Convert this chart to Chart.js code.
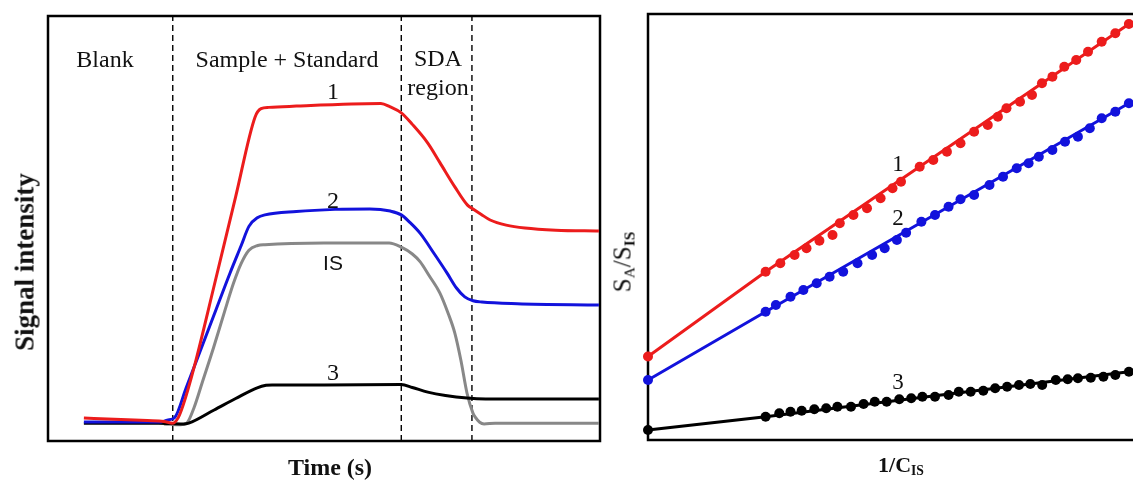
<!DOCTYPE html>
<html>
<head>
<meta charset="utf-8">
<script src="https://cdn.jsdelivr.net/npm/chart.js@4.4.1/dist/chart.umd.min.js"></script>
<style>
  html, body { margin:0; padding:0; background:#fff; }
  body { width:1133px; height:481px; overflow:hidden; position:relative; }
  .pane { position:absolute; top:0; }
  .lbl { position:absolute; transform:translate(-50%,-50%); white-space:nowrap; color:#111;
         font-family:"Liberation Serif","Times New Roman",serif; font-size:24px; line-height:1; }
  .sans { font-family:"Liberation Sans",Arial,sans-serif; }
  .b { font-weight:bold; }
  .rot { transform:translate(-50%,-50%) rotate(-90deg); }
  sub { font-size:62%; vertical-align:-0.25em; line-height:0; }
</style>
</head>
<body>
<div class="pane" style="left:0;width:610px;height:481px"><canvas id="c1" width="610" height="481"></canvas></div>
<div class="pane" style="left:600px;width:545px;height:481px"><canvas id="c2" width="545" height="481"></canvas></div>

<div class="lbl" style="left:105px;top:59px">Blank</div>
<div class="lbl" style="left:287px;top:59px">Sample + Standard</div>
<div class="lbl" style="left:438px;top:58px">SDA</div>
<div class="lbl" style="left:438px;top:87px">region</div>
<div class="lbl" style="left:333px;top:91px">1</div>
<div class="lbl" style="left:333px;top:200px">2</div>
<div class="lbl sans" style="left:333px;top:262px;font-size:21px">IS</div>
<div class="lbl" style="left:333px;top:372px">3</div>
<div class="lbl b rot" style="left:25px;top:262px;font-size:27px">Signal intensity</div>
<div class="lbl b" style="left:330px;top:467px">Time (s)</div>

<div class="lbl" style="left:898px;top:163px;font-size:23px">1</div>
<div class="lbl" style="left:898px;top:217px;font-size:23px">2</div>
<div class="lbl" style="left:898px;top:381px;font-size:23px">3</div>
<div class="lbl rot" style="left:622px;top:262px;font-size:25px">S<sub>A</sub>/S<sub class="b">IS</sub></div>
<div class="lbl b" style="left:901px;top:465px;font-size:22px">1/C<sub>IS</sub></div>

<script>
// ---------- Left panel: signal vs time (arbitrary units) ----------
const timeRed   = [6.5, 12, 18, 21.0, 22.6, 23.6, 24.5, 26.5, 30, 34, 37.5, 38.6, 40, 45, 55, 60.3, 62, 64.0, 66, 68.8, 71, 73.7, 76, 77.0, 78.5, 80.1, 83, 86.4, 92, 99.8];
const signalRed = [5.4, 5.1, 4.8, 4.6, 4.2, 5.5, 8.5, 17.5, 36, 57.5, 76.2, 78.2, 78.5, 78.8, 79.3, 79.4, 78.6, 77.2, 74.5, 70.1, 65.5, 59.8, 55.5, 54.6, 53.3, 52.0, 50.8, 50.1, 49.6, 49.4];

const timeBlue   = [6.5, 15, 20.5, 21.6, 23.0, 25, 30, 33, 35, 36.4, 38, 39.3, 45, 52, 58.3, 62, 64.0, 65.5, 67.4, 70, 72.3, 74, 75.5, 77, 78.6, 85, 99.8];
const signalBlue = [4.5, 4.5, 4.5, 4.9, 5.6, 12.4, 29.4, 39.6, 46, 50.5, 52.6, 53.2, 54.0, 54.5, 54.6, 54.1, 53.2, 51.5, 48.9, 44, 39.5, 36, 33.9, 33.0, 32.7, 32.3, 32.0];

const timeIS   = [21.0, 24.0, 25.2, 26.5, 28, 30, 32, 33.6, 35, 36.4, 38, 39.3, 50, 61.8, 64.0, 66, 67.4, 69, 71.0, 72.5, 73.7, 74.8, 75.9, 77.0, 77.4, 78.2, 79.0, 81, 83.0, 99.8];
const signalIS = [4.0, 3.8, 4.3, 8.0, 14, 22, 30.5, 37.1, 41.8, 44.9, 46.0, 46.2, 46.6, 46.6, 45.6, 44, 42.2, 39, 34.8, 30, 25.4, 19, 11.3, 6.5, 5.6, 4.4, 4.0, 4.2, 4.2, 4.2];

const timeBlack   = [6.5, 20, 24.5, 25.5, 30.1, 34, 37.9, 39.5, 40.6, 50, 64.0, 66, 68.8, 72, 75.9, 79.3, 99.8];
const signalBlack = [4.2, 4.2, 4.0, 4.2, 7.3, 10.0, 12.5, 13.1, 13.2, 13.2, 13.3, 12.6, 11.5, 10.7, 10.1, 9.9, 9.9];

const regionBounds = [22.6, 64.0, 76.8];   // Blank | Sample + Standard | SDA region | ...

// ---------- Right panel: S_A/S_IS vs 1/C_IS (arbitrary units) ----------
const invConc1 = [0, 24.15, 27.17, 30.10, 32.55, 35.20, 37.89, 39.38, 42.18, 44.97, 47.76, 50.21, 51.95, 55.79, 58.58, 61.38, 64.17, 66.96, 69.77, 71.85, 73.61, 76.39, 78.85, 80.90, 83.04, 85.48, 87.93, 90.35, 93.16, 95.96, 98.75];
const ratio1   = [19.6, 39.51, 41.48, 43.43, 45.0, 46.78, 48.12, 50.87, 52.82, 54.39, 56.74, 59.08, 60.63, 64.15, 65.73, 67.68, 69.65, 72.37, 73.94, 75.89, 77.86, 79.41, 80.99, 83.73, 85.28, 87.63, 89.20, 91.15, 93.50, 95.47, 97.65];

const invConc2 = [0, 24.15, 26.26, 29.26, 31.91, 34.64, 37.29, 40.08, 43.02, 46.02, 48.60, 51.11, 53.00, 56.14, 58.93, 61.72, 64.17, 66.96, 70.12, 72.90, 75.71, 78.15, 80.25, 83.04, 85.63, 88.28, 90.72, 93.16, 95.96, 98.75];
const ratio2   = [14.08, 30.12, 31.69, 33.64, 35.21, 36.78, 38.33, 39.51, 41.48, 43.43, 45.0, 46.95, 48.66, 51.24, 52.82, 54.77, 56.50, 57.51, 59.86, 61.81, 63.78, 64.95, 66.50, 68.08, 70.02, 71.20, 73.17, 75.52, 77.07, 79.04];

const invConc3 = [0, 24.15, 26.96, 29.26, 31.56, 34.15, 36.59, 38.89, 41.68, 44.27, 46.57, 49.01, 51.60, 54.05, 56.34, 58.93, 61.72, 63.82, 66.26, 68.85, 71.29, 73.74, 76.18, 78.50, 80.94, 83.74, 86.18, 88.28, 90.92, 93.51, 95.96, 98.75];
const ratio3   = [2.35, 5.47, 6.27, 6.64, 6.88, 7.21, 7.44, 7.82, 7.82, 8.45, 8.99, 8.99, 9.55, 9.79, 10.16, 10.16, 10.56, 11.34, 11.34, 11.57, 12.14, 12.51, 12.91, 13.15, 12.91, 14.08, 14.25, 14.48, 14.62, 14.86, 15.26, 16.03];

// fitted lines: [first point, start of linear range, end]
const fitX1 = [0, 24.15, 98.75], fitY1 = [19.6, 39.51, 97.65];
const fitX2 = [0, 24.15, 98.75], fitY2 = [14.08, 30.12, 79.04];
const fitX3 = [0, 24.15, 98.75], fitY3 = [2.35, 5.47, 16.03];

const RED = '#ec1c1c', BLUE = '#1212dc', GRAY = '#888888', BLACK = '#000000';

const pts = (xs, ys) => xs.map((x, i) => ({x, y: ys[i]}));

const framePlugin = {
  id: 'frame',
  beforeDatasetsDraw(chart) {
    const a = chart.chartArea, ctx = chart.ctx;
    ctx.save();
    ctx.strokeStyle = '#000';
    ctx.lineWidth = 2.5;
    ctx.strokeRect(a.left, a.top, a.right - a.left, a.bottom - a.top);
    ctx.restore();
  }
};

const hiddenScales = {
  x: { type: 'linear', min: 0, max: 100, display: false },
  y: { type: 'linear', min: 0, max: 100, display: false }
};

const curve = (xs, ys, color, order) => ({
  data: pts(xs, ys), borderColor: color, borderWidth: 3, pointRadius: 0,
  cubicInterpolationMode: 'monotone', order, clip: false
});

const dashDatasets = regionBounds.map(b => ({
  data: [{x: b, y: 0}, {x: b, y: 100}], borderColor: '#000', borderWidth: 1.4,
  borderDash: [6, 4], pointRadius: 0, order: 6
}));

new Chart(document.getElementById('c1'), {
  type: 'line',
  data: { datasets: [
    curve(timeRed, signalRed, RED, 1),
    curve(timeBlue, signalBlue, BLUE, 2),
    curve(timeBlack, signalBlack, BLACK, 3),
    curve(timeIS, signalIS, GRAY, 4),
    ...dashDatasets
  ]},
  options: {
    responsive: false, animation: false, events: [],
    layout: { padding: { left: 48, right: 10, top: 16, bottom: 40 } },
    scales: hiddenScales,
    plugins: { legend: { display: false }, tooltip: { enabled: false } }
  },
  plugins: [framePlugin]
});

const fitLine = (xs, ys, color, order) => ({
  type: 'line', data: pts(xs, ys), borderColor: color, borderWidth: 3,
  pointRadius: 0, tension: 0, order, clip: false
});
const dots = (xs, ys, color, order) => ({
  type: 'scatter', data: pts(xs, ys), backgroundColor: color, borderColor: color,
  borderWidth: 0, pointRadius: 5, showLine: false, order, clip: false
});

new Chart(document.getElementById('c2'), {
  type: 'scatter',
  data: { datasets: [
    dots(invConc1, ratio1, RED, 1), fitLine(fitX1, fitY1, RED, 2),
    dots(invConc2, ratio2, BLUE, 1), fitLine(fitX2, fitY2, BLUE, 2),
    dots(invConc3, ratio3, BLACK, 1), fitLine(fitX3, fitY3, BLACK, 2)
  ]},
  options: {
    responsive: false, animation: false, events: [],
    layout: { padding: { left: 48, right: 10, top: 14, bottom: 41 } },
    scales: hiddenScales,
    plugins: { legend: { display: false }, tooltip: { enabled: false } }
  },
  plugins: [framePlugin]
});
</script>
</body>
</html>
